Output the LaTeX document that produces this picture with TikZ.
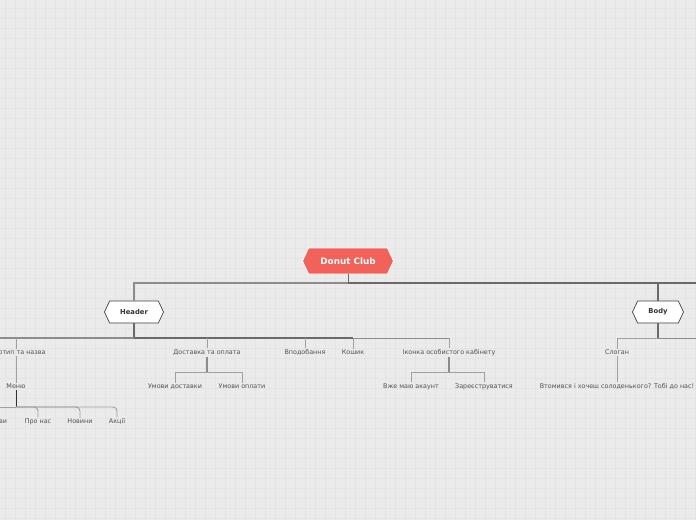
\documentclass[tikz,border=0pt]{standalone}
\usepackage{fontspec}
\setmainfont{DejaVu Sans}
\usetikzlibrary{shapes.symbols}
\definecolor{bg}{HTML}{EBEBEB}
\definecolor{gridc}{HTML}{E4E4E4}
\definecolor{donut}{HTML}{F0625A}
\definecolor{lineA}{HTML}{6A6A6A}
\definecolor{lineL}{HTML}{8C8C8C}
\definecolor{lineB}{HTML}{A0A0A0}
\definecolor{txt}{HTML}{505050}
\begin{document}
\begin{tikzpicture}[x=1pt,y=-1pt,
 lbl/.style={font=\fontsize{6.4}{8}\selectfont, text=txt, inner sep=1pt},
 hexa/.style={signal, signal to=east and west, signal pointer angle=130, inner sep=0pt,
   font=\bfseries\fontsize{6.8}{8}\selectfont},
 major/.style={draw=lineA, line width=1.3pt},
 majorl/.style={draw=lineL, line width=1.3pt},
 minor/.style={draw=lineB, line width=0.9pt},
 stem/.style={draw=lineL, line width=1.3pt}]
\useasboundingbox (0,0) rectangle (696,520);
\fill[bg] (0,0) rectangle (696,520);
\foreach \x in {5,15,...,695} \draw[gridc, line width=0.5pt] (\x,0) -- (\x,520);
\foreach \y in {8,18,...,518} \draw[gridc, line width=0.5pt] (0,\y) -- (696,\y);

% main nodes
\node[hexa, fill=donut, draw=white, line width=0.8pt, text=white, minimum width=91pt, minimum height=26pt,
  font=\bfseries\fontsize{8.8}{10}\selectfont] (dc) at (348,261) {Donut Club};
\node[hexa, draw=black!75, fill=white, line width=0.7pt, text=black!80, minimum width=59pt, minimum height=22pt] (hdr) at (134,312) {Header};
\node[hexa, draw=black!75, fill=white, line width=0.7pt, text=black!80, minimum width=51pt, minimum height=22pt] (body) at (658,312) {Body};

% labels
\node[lbl] (logo) at (16,352.5) {Логотип та назва};
\node[lbl] (dost) at (207,352.5) {Доставка та оплата};
\node[lbl] (vpod) at (305,352.5) {Вподобання};
\node[lbl] (kosh) at (353,352.5) {Кошик};
\node[lbl] (ikon) at (449,352.5) {Іконка особистого кабінету};
\node[lbl] (menu) at (16,386.5) {Меню};
\node[lbl] (strav) at (-5,421.5) {Страви};
\node[lbl] (pronas) at (38,421.5) {Про нас};
\node[lbl] (novyny) at (80,421.5) {Новини};
\node[lbl] (akcii) at (117,421.5) {Акції};
\node[lbl] (umd) at (175,386.5) {Умови доставки};
\node[lbl] (umo) at (242,386.5) {Умови оплати};
\node[lbl] (vzhe) at (411,386.5) {Вже маю акаунт};
\node[lbl] (zar) at (484,386.5) {Зареєструватися};
\node[lbl] (slogan) at (617,352.5) {Слоган};
\node[lbl] (vtom) at (617,386.5) {Втомився і хочеш солоденького? Тобі до нас!};

% coordinates
\coordinate (dcbus) at (348,283);
\coordinate (rightA) at (705,283);
\coordinate (hbus) at (134,338);
\coordinate (leftH) at (-5,338);
\coordinate (kbus) at (353,338);
\coordinate (bbus) at (658,338);
\coordinate (rightB) at (705,338);
\coordinate (mbus) at (16,407);
\coordinate (leftM) at (-5,407);
\coordinate (dbus) at (207,372);
\coordinate (ibus) at (449,372);

% level 1
\draw[major, line width=1pt] (dc.south) -- (dcbus);
\draw[majorl] (dcbus) -| (hdr.north);
\draw[major] (dcbus) -- (rightA);
\draw[major] (body.north |- dcbus) -- (body.north);

% header
\draw[major] (hdr.south) -- (hbus);
\draw[majorl] (hbus) -- (leftH);
\draw[major] (hbus) -- (kbus);
\draw[majorl, line width=1pt] (kbus) -- (ikon.north |- kbus);
\draw[minor] (logo.north |- hbus) -- (logo.north);
\draw[minor] (dost.north |- hbus) -- (dost.north);
\draw[minor] (vpod.north |- hbus) -- (vpod.north);
\draw[minor] (kosh.north |- hbus) -- (kosh.north);
\draw[minor] (ikon.north |- hbus) -- (ikon.north);

% logo / menu
\draw[minor] (logo.south) -- (menu.north);
\draw[draw=black!80, line width=0.9pt] (menu.south) -- (mbus);
\draw[minor] (mbus) -- (leftM);
\draw[minor, rounded corners=4pt] (mbus) -| (pronas.north);
\draw[minor, rounded corners=4pt] (mbus) -| (novyny.north);
\draw[minor, rounded corners=4pt] (mbus) -| (akcii.north);

% delivery
\draw[stem] (dost.south) -- (dbus);
\draw[minor] (dbus) -| (umd.north);
\draw[minor] (dbus) -| (umo.north);

% account
\draw[stem] (ikon.south) -- (ibus);
\draw[minor] (ibus) -| (vzhe.north);
\draw[minor] (ibus) -| (zar.north);

% body
\draw[major] (body.south) -- (bbus);
\draw[majorl, line width=1pt] (bbus) -- (rightB);
\draw[minor] (bbus) -| (slogan.north);
\draw[minor] (slogan.south) -- (vtom.north);
\end{tikzpicture}
\end{document}
